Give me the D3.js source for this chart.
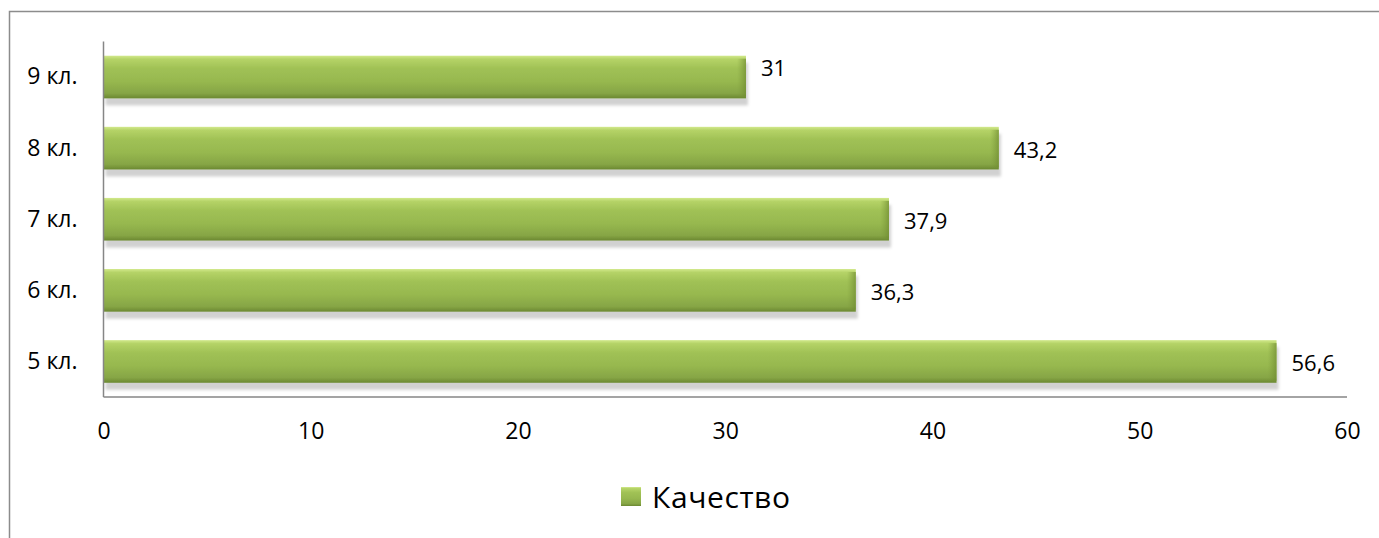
<!DOCTYPE html>
<html><head><meta charset="utf-8">
<script src="https://cdn.jsdelivr.net/npm/d3@7"></script>
<style>body{margin:0;background:#fff}svg{display:block}text{font-family:"Open Sans",sans-serif;fill:#000}</style>
</head><body>
<script>
const categories = ["5 кл.", "6 кл.", "7 кл.", "8 кл.", "9 кл."];
const values = [56.6, 36.3, 37.9, 43.2, 31];
const valueLabels = ["56,6", "36,3", "37,9", "43,2", "31"];
const xTicks = [0, 10, 20, 30, 40, 50, 60];
const seriesName = "Качество";

(function(){
const W = 1379, H = 538;
const svg = d3.select("body").append("svg").attr("width", W).attr("height", H);
const defs = svg.append("defs");
const g1 = defs.append("linearGradient").attr("id","barG").attr("x1",0).attr("y1",0).attr("x2",0).attr("y2",1);
[[0,"#d2e98c"],[0.08,"#b5d367"],[0.3,"#a0c155"],[0.6,"#97b84f"],[0.88,"#86a545"],[1,"#6b8832"]].forEach(([o,c])=>g1.append("stop").attr("offset",o).attr("stop-color",c));
const g2 = defs.append("linearGradient").attr("id","edgeG").attr("x1",0).attr("y1",0).attr("x2",1).attr("y2",0);
g2.append("stop").attr("offset",0).attr("stop-color","#7f9c3c").attr("stop-opacity",0);
g2.append("stop").attr("offset",1).attr("stop-color","#6e8a30").attr("stop-opacity",0.7);
const f = defs.append("filter").attr("id","sh").attr("x","-5%").attr("y","-30%").attr("width","110%").attr("height","170%");
f.append("feDropShadow").attr("dx",2).attr("dy",7).attr("stdDeviation",1.5).attr("flood-color","#000").attr("flood-opacity",0.18);

// outer frame
svg.append("rect").attr("x",9.5).attr("y",11.5).attr("width",W+20).attr("height",H+20)
  .attr("fill","none").attr("stroke","#8c8c8c").attr("stroke-width",1.5);

const pl = 103.5, pr = 1347, pt = 41.5, pb = 397;
const x = d3.scaleLinear().domain([0,60]).range([pl,pr]);
const y = d3.scaleBand().domain(categories.slice().reverse()).range([pt,pb]).paddingInner(0.4).paddingOuter(0.2);

const data = categories.map((c,i)=>({c, v: values[i], l: valueLabels[i]}));

const bars = svg.append("g").selectAll("g").data(data).join("g");
bars.append("rect").attr("x",x(0)).attr("y",d=>y(d.c)).attr("width",d=>x(d.v)-x(0)).attr("height",y.bandwidth())
  .attr("fill","url(#barG)").attr("filter","url(#sh)");
bars.append("rect").attr("x",d=>x(d.v)-9).attr("y",d=>y(d.c)+3).attr("width",9).attr("height",y.bandwidth()-5)
  .attr("fill","url(#edgeG)");
const topCat = categories[categories.length-1];
bars.append("text").attr("x",d=>x(d.v)+15).attr("y",d=>y(d.c)+y.bandwidth()/2 + (d.c===topCat ? -10 : 1))
  .attr("dominant-baseline","central").attr("font-size",22).text(d=>d.l);

// axes
svg.append("line").attr("x1",pl).attr("x2",pl).attr("y1",pt).attr("y2",pb).attr("stroke","#868686").attr("stroke-width",1.5);
svg.append("line").attr("x1",pl).attr("x2",pr).attr("y1",pb).attr("y2",pb).attr("stroke","#868686").attr("stroke-width",1.5);

const xa = svg.append("g").attr("transform",`translate(0,${pb})`)
  .call(d3.axisBottom(x).tickValues(xTicks).tickSize(0).tickPadding(26).tickFormat(d3.format("d")));
xa.select(".domain").remove();
xa.selectAll("text").attr("font-size",23).attr("font-family","Open Sans").attr("fill","#000");

const ya = svg.append("g").attr("transform",`translate(${pl},0)`)
  .call(d3.axisLeft(y).tickSize(0).tickPadding(26));
ya.select(".domain").remove();
ya.selectAll("text").attr("font-size",23).attr("font-family","Open Sans").attr("fill","#000");

// legend
const lg = svg.append("g").attr("transform","translate(621,487)");
lg.append("rect").attr("width",20).attr("height",19).attr("fill","url(#barG)");
lg.append("text").attr("x",31).attr("y",9.5).attr("dominant-baseline","central").attr("font-size",30).attr("letter-spacing",0.6).text(seriesName);
})();
</script>
</body></html>
